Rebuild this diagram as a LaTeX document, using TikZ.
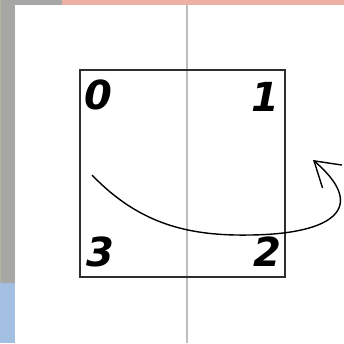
\documentclass[tikz,border=0pt]{standalone}
\usepackage{fontspec}
\usetikzlibrary{arrows.meta}
\newfontfamily\digitfont{DejaVu Sans}
\definecolor{panelgrey}{HTML}{A7A8A6}
\definecolor{paneledge}{HTML}{B3B29C}
\definecolor{tabpink}{HTML}{EDB0A3}
\definecolor{tabblue}{HTML}{A3BFE2}
\definecolor{edge}{HTML}{2E2E2E}
\definecolor{guide}{HTML}{BDBDBD}

\tikzset{corner/.style={font=\digitfont\bfseries\itshape\fontsize{40}{40}\selectfont, inner sep=0pt}}

\begin{document}
\begin{tikzpicture}[x=1pt, y=-1pt, >={Straight Barb[length=24pt, width=30pt]}]
  \useasboundingbox (0,0) rectangle (344,343);
  % window background
  \fill[white] (0,0) rectangle (344,343);
  \fill[panelgrey] (0,0) rectangle (15,343);
  \fill[panelgrey] (0,0) rectangle (62,5);
  \fill[tabpink] (62,0) rectangle (344,5);
  \fill[tabblue] (0,283) rectangle (15,343);
  \fill[paneledge] (0,0) rectangle (1,283);
  \draw[guide, line width=1.5pt] (187,5) -- (187,343);
  % square with corner numbers
  \node[draw=edge, line width=2pt, minimum width=205pt, minimum height=207pt, inner sep=0pt] (sq) at (182.5,173.5) {};
  \node[corner] (n0) at (98,95) {0};
  \node[corner] (n1) at (265,97) {1};
  \node[corner] (n3) at (100,252) {3};
  \node[corner] (n2) at (267,252) {2};
  \coordinate (from) at (92,175);
  \coordinate (tip) at (313,160);
  \draw[->, line width=1.4pt] (from) .. controls (140,225) and (190,236) .. (250,235)
    .. controls (335,234) and (368,207) .. (tip);
\end{tikzpicture}
\end{document}
